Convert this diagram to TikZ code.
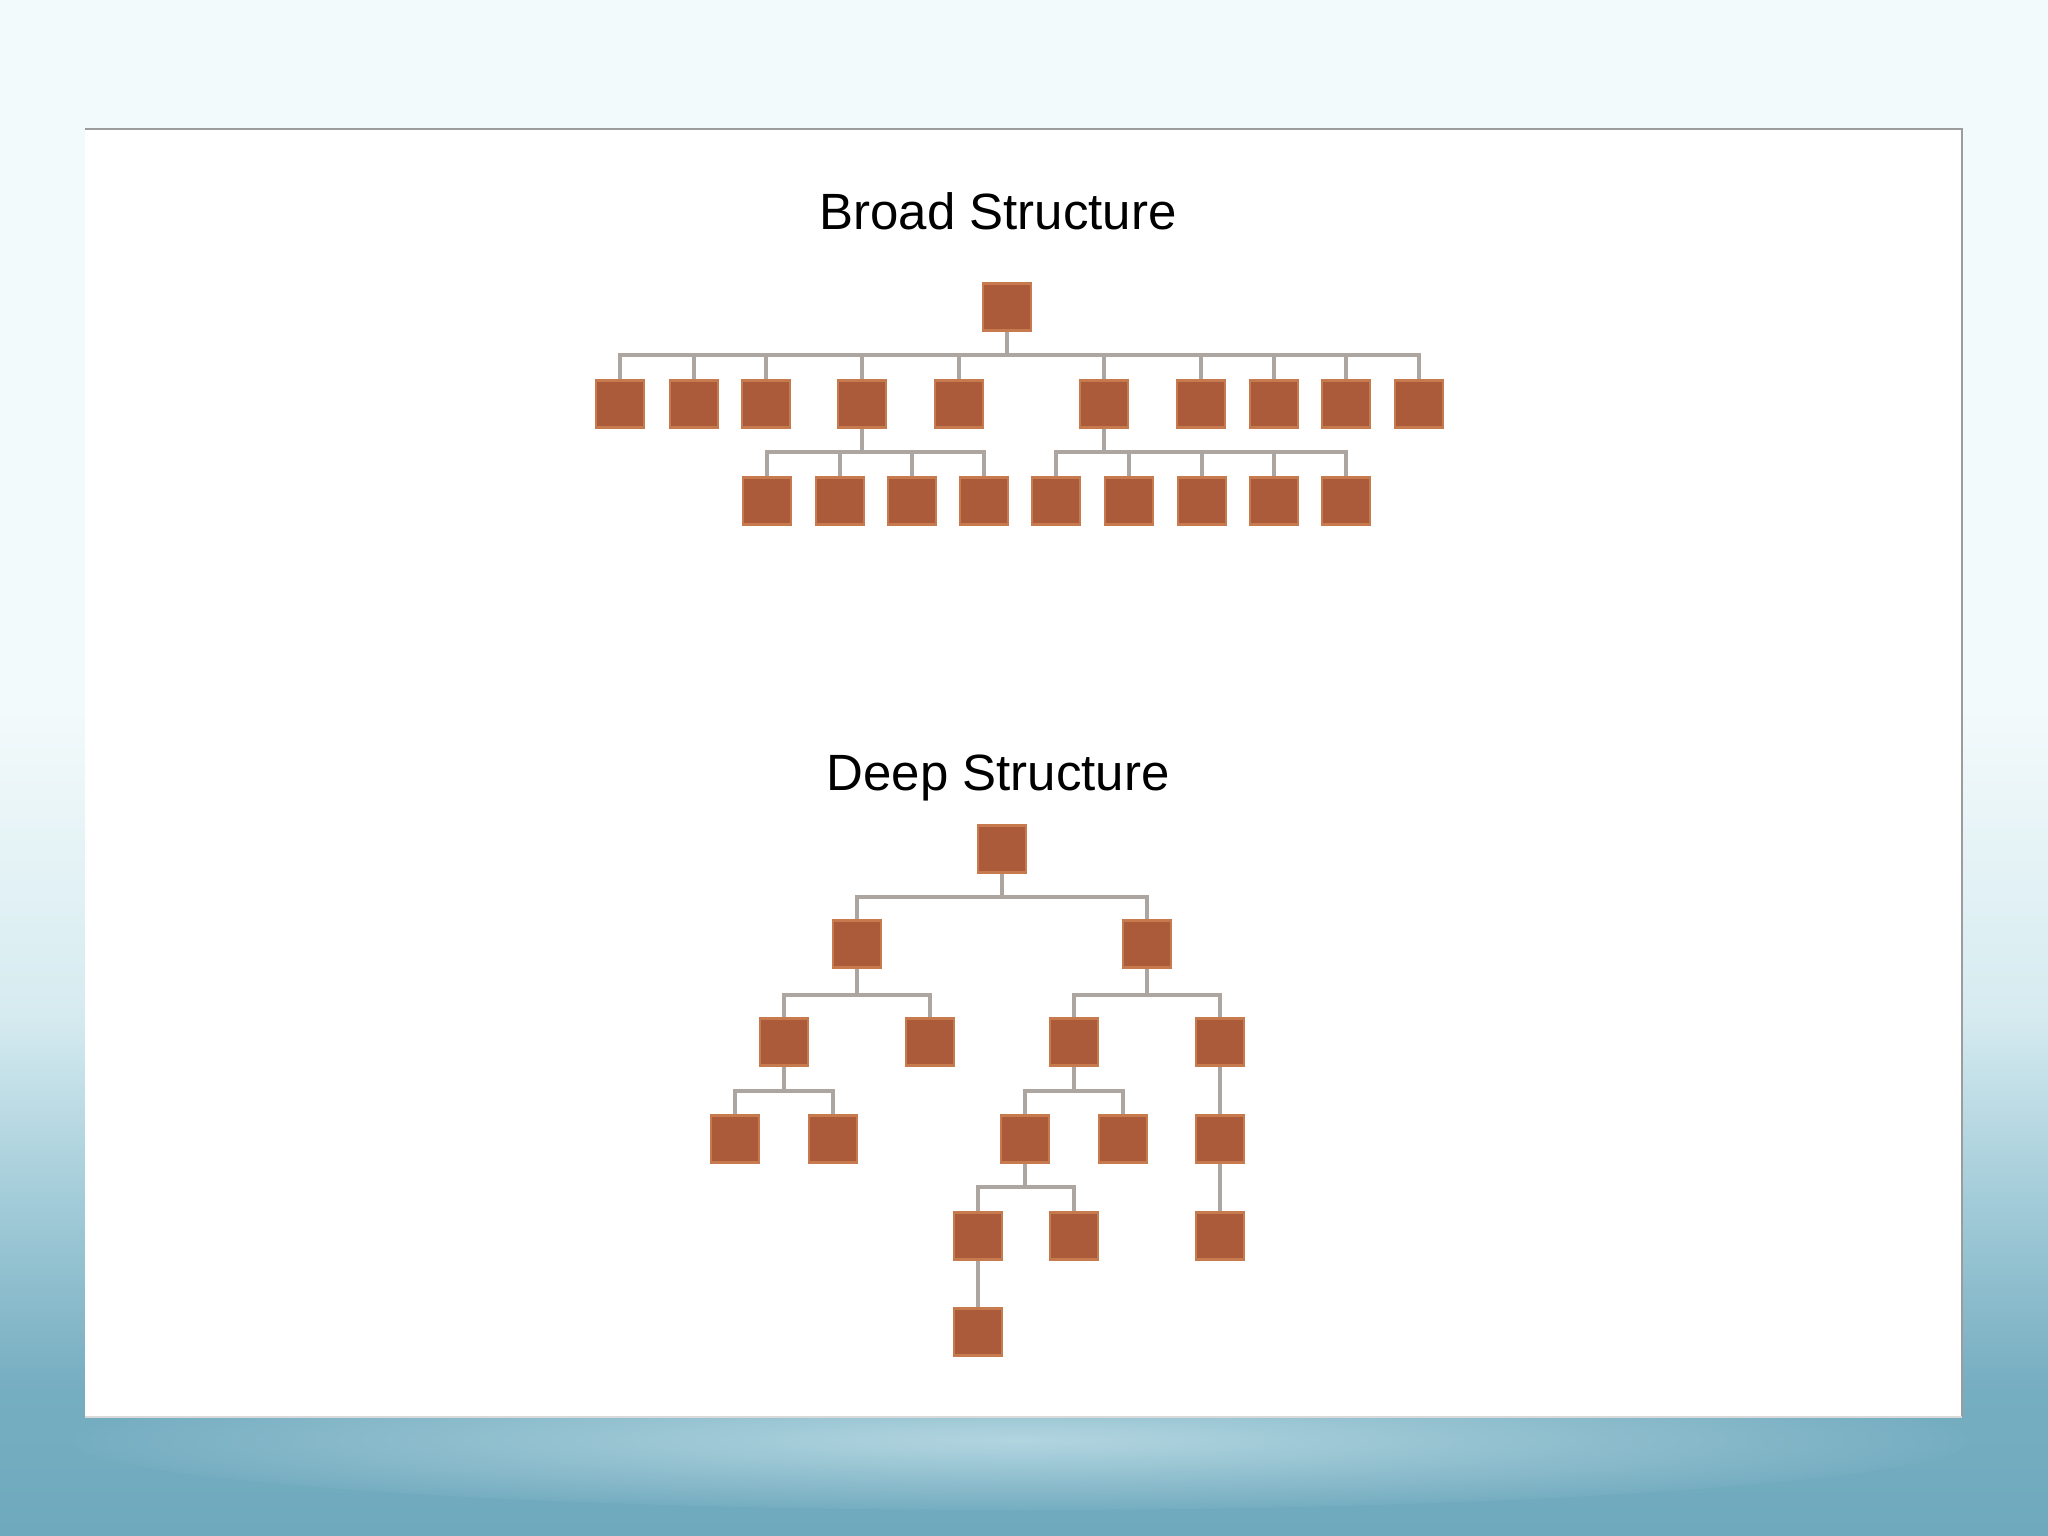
\documentclass[tikz,border=0pt]{standalone}
\usepackage{fontspec}
\setmainfont{Liberation Sans}
\definecolor{boxfill}{HTML}{AC5B3A}
\definecolor{boxedge}{HTML}{C77A4E}
\definecolor{conncol}{HTML}{ADA6A0}
\definecolor{bgtop}{HTML}{F3FAFB}
\definecolor{bglight}{HTML}{D6EBF0}
\definecolor{bgmid}{HTML}{A3CCD9}
\definecolor{bgbot}{HTML}{6FA9BD}
\definecolor{panelline}{HTML}{9C9C9C}
\pgfdeclareverticalshading{bgshade}{100bp}{color(0bp)=(bgbot); color(25bp)=(bgbot); color(30bp)=(bgbot!85!bgmid); color(36bp)=(bgmid); color(42bp)=(bglight); color(52bp)=(bgtop); color(100bp)=(bgtop)}
\tikzset{
  box/.style={draw=boxedge, fill=boxfill, line width=0.6pt, minimum width=0.48cm, minimum height=0.47cm, inner sep=0pt},
  conn/.style={draw=conncol, line width=1.1pt},
  titletext/.style={font=\fontsize{14.5pt}{17pt}\selectfont, text=black, inner sep=0pt},
}
\newcommand\treeedge[3]{\draw[conn] (#1.south) -- (#1.south |- #3) -| (#2.north);}
\newcommand\straightedge[2]{\draw[conn] (#1.south) -- (#2.north);}
\begin{document}
\begin{tikzpicture}[x=0.01cm,y=-0.01cm]
\useasboundingbox (0,0) rectangle (2048,1536);
\shade[shading=bgshade] (0,0) rectangle (2048,1536);
\shade[inner color=bgmid!70!bglight, outer color=bgbot!88!bgmid] (1020,1440) ellipse [x radius=950, y radius=70];
% panel
\fill[white] (85,129) rectangle (1962,1417);
\draw[panelline, line width=0.7pt] (85,129) -- (1962,129) -- (1962,1417);
\draw[black!15, line width=0.5pt] (85,1417) -- (1962,1417);

% titles
\node[titletext, anchor=base] (tb) at (998,229) {Broad Structure};
\node[titletext, anchor=base] (td) at (998,790) {Deep Structure};

% ---------- Broad structure ----------
\coordinate (yb1) at (0,355);
\coordinate (yb2) at (0,452);
\node[box] (r) at (1007,307) {};
\node[box] (a1) at (620,404) {};
\node[box] (a2) at (694,404) {};
\node[box] (a3) at (766,404) {};
\node[box] (a4) at (862,404) {};
\node[box] (a5) at (959,404) {};
\node[box] (a6) at (1104,404) {};
\node[box] (a7) at (1201,404) {};
\node[box] (a8) at (1274,404) {};
\node[box] (a9) at (1346,404) {};
\node[box] (a10) at (1419,404) {};
\node[box] (b1) at (767,501) {};
\node[box] (b2) at (840,501) {};
\node[box] (b3) at (912,501) {};
\node[box] (b4) at (984,501) {};
\node[box] (b5) at (1056,501) {};
\node[box] (b6) at (1129,501) {};
\node[box] (b7) at (1202,501) {};
\node[box] (b8) at (1274,501) {};
\node[box] (b9) at (1346,501) {};
\foreach \c in {a1,a2,a3,a4,a5,a6,a7,a8,a9,a10} {\treeedge{r}{\c}{yb1}}
\foreach \c in {b1,b2,b3,b4} {\treeedge{a4}{\c}{yb2}}
\foreach \c in {b5,b6,b7,b8,b9} {\treeedge{a6}{\c}{yb2}}

% ---------- Deep structure ----------
\coordinate (yd1) at (0,897);
\coordinate (yd2) at (0,995);
\coordinate (yd3) at (0,1091);
\coordinate (yd4) at (0,1187);
\node[box] (d) at (1002,849) {};
\node[box] (d1) at (857,944) {};
\node[box] (d2) at (1147,944) {};
\node[box] (d11) at (784,1042) {};
\node[box] (d12) at (930,1042) {};
\node[box] (d21) at (1074,1042) {};
\node[box] (d22) at (1220,1042) {};
\node[box] (d111) at (735,1139) {};
\node[box] (d112) at (833,1139) {};
\node[box] (d211) at (1025,1139) {};
\node[box] (d212) at (1123,1139) {};
\node[box] (d221) at (1220,1139) {};
\node[box] (d2111) at (978,1236) {};
\node[box] (d2112) at (1074,1236) {};
\node[box] (d2211) at (1220,1236) {};
\node[box] (d21111) at (978,1332) {};
\treeedge{d}{d1}{yd1}
\treeedge{d}{d2}{yd1}
\treeedge{d1}{d11}{yd2}
\treeedge{d1}{d12}{yd2}
\treeedge{d2}{d21}{yd2}
\treeedge{d2}{d22}{yd2}
\treeedge{d11}{d111}{yd3}
\treeedge{d11}{d112}{yd3}
\treeedge{d21}{d211}{yd3}
\treeedge{d21}{d212}{yd3}
\straightedge{d22}{d221}
\treeedge{d211}{d2111}{yd4}
\treeedge{d211}{d2112}{yd4}
\straightedge{d221}{d2211}
\straightedge{d2111}{d21111}
\end{tikzpicture}
\end{document}
